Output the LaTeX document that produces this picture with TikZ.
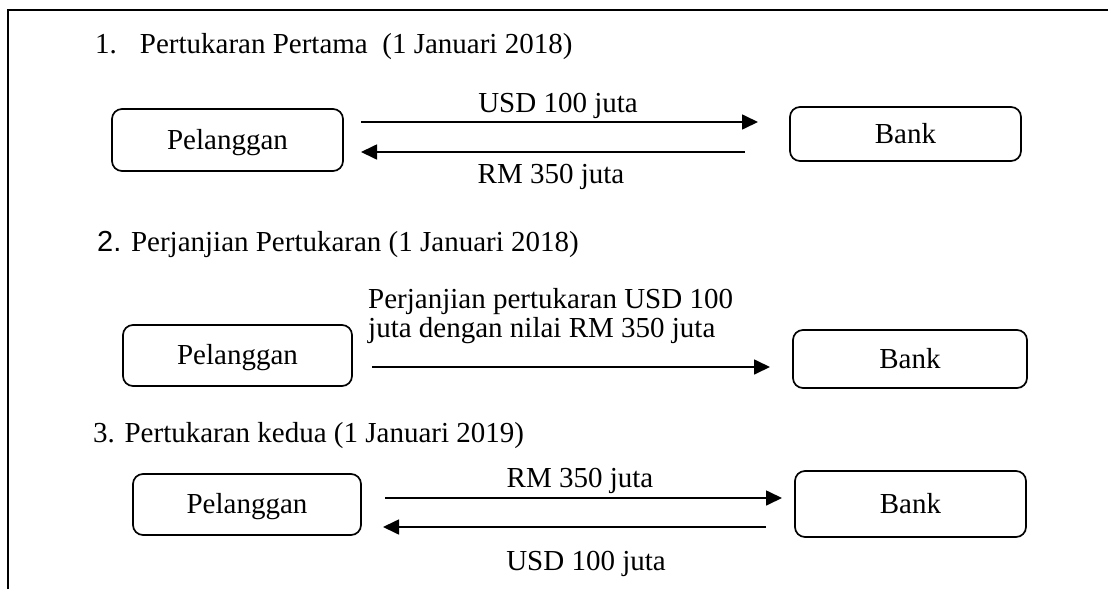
\documentclass[tikz,border=0pt]{standalone}
\usepackage{fontspec}
\setmainfont{Liberation Serif}
\newfontfamily\arialfont{Liberation Sans}
\usepackage{tikz}
\usetikzlibrary{arrows.meta}

\begin{document}
\begin{tikzpicture}[x=1pt, y=-1pt,
		party/.style={draw, line width=1.7pt, rounded corners=10pt, inner sep=0pt,
			text height=20pt, text depth=2pt,
			font=\fontsize{29pt}{29pt}\selectfont},
		flow/.style={line width=1.7pt, -{Triangle[length=16pt,width=15pt]}},
		lbl/.style={inner sep=0pt, font=\fontsize{29pt}{29pt}\selectfont}]
		\useasboundingbox (0,0) rectangle (1108,589);

		% draw frame
		\draw[line width=2pt] (8,589) -- (8,10) -- (1108,10);

		% draw headings
		\node[lbl, anchor=base west] (h1) at (95,53) {1.\hspace{23pt}Pertukaran Pertama\ \ (1 Januari 2018)};
		\node[lbl, anchor=base west] (h2) at (97,251) {{\arialfont 2.} Perjanjian Pertukaran (1 Januari 2018)};
		\node[lbl, anchor=base west] (h3) at (93,442) {3. Pertukaran kedua (1 Januari 2019)};

		% draw boxes
		\node[party, minimum width=231pt, minimum height=62pt] (p1) at (227.5,140) {Pelanggan};
		\node[party, minimum width=231pt, minimum height=54pt] (b1) at (905.5,134) {Bank};
		\node[party, minimum width=229pt, minimum height=61pt] (p2) at (237.5,355.5) {Pelanggan};
		\node[party, minimum width=234pt, minimum height=58pt] (b2) at (910,359) {Bank};
		\node[party, minimum width=228pt, minimum height=61pt] (p3) at (247,504.5) {Pelanggan};
		\node[party, minimum width=231pt, minimum height=66pt] (b3) at (910.5,504) {Bank};

		% arrow ends
		\coordinate (a1s) at (361,122);  \coordinate (a1e) at (758,122);
		\coordinate (r1s) at (745,152);  \coordinate (r1e) at (361,152);
		\coordinate (a2s) at (372,367);  \coordinate (a2e) at (770,367);
		\coordinate (a3s) at (385,498);  \coordinate (a3e) at (782,498);
		\coordinate (r3s) at (766,527);  \coordinate (r3e) at (383,527);

		% draw arrows
		\draw[flow] (a1s) -- (a1e);
		\draw[flow] (r1s) -- (r1e);
		\draw[flow] (a2s) -- (a2e);
		\draw[flow] (a3s) -- (a3e);
		\draw[flow] (r3s) -- (r3e);

		% draw labels
		\node[lbl, anchor=base] (l1) at (558,112) {USD 100 juta};
		\node[lbl, anchor=base] (l2) at (551,183) {RM 350 juta};
		\node[lbl, anchor=base west, align=left] (l3) at (368,337) {Perjanjian pertukaran USD 100\\juta dengan nilai RM 350 juta};
		\node[lbl, anchor=base] (l4) at (580,487) {RM 350 juta};
		\node[lbl, anchor=base] (l5) at (586,570) {USD 100 juta};
	\end{tikzpicture}
\end{document}
